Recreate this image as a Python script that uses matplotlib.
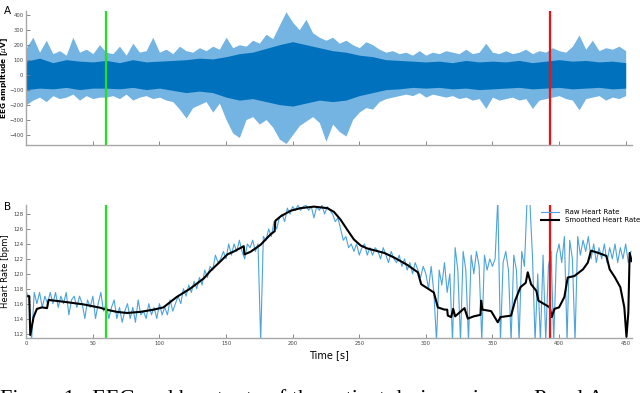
import numpy as np
import matplotlib
matplotlib.use("Agg")
import matplotlib.pyplot as plt

# EEG envelope (outer, every 5 s)
eeg_t = np.arange(0, 451, 5)
eeg_hi = [180, 250, 150, 230, 140, 160, 130, 250, 150, 170,
          140, 200, 150, 140, 190, 130, 210, 150, 160, 250,
          150, 170, 140, 190, 160, 150, 180, 160, 190, 170,
          250, 180, 200, 190, 230, 210, 270, 240, 330, 420,
          350, 300, 370, 280, 250, 230, 250, 210, 230, 200,
          180, 220, 200, 170, 150, 160, 140, 150, 130, 160,
          130, 150, 140, 160, 150, 140, 170, 140, 150, 210,
          150, 140, 160, 140, 150, 170, 140, 160, 150, 180,
          160, 150, 190, 265, 170, 230, 160, 180, 170, 190,
          160]
eeg_lo = [-200, -170, -150, -180, -140, -160, -150, -130, -170, -140,
          -160, -150, -150, -140, -160, -130, -170, -150, -140, -160,
          -150, -170, -180, -230, -290, -220, -200, -180, -250, -190,
          -300, -390, -420, -300, -280, -330, -300, -350, -430, -460,
          -400, -340, -310, -280, -320, -445, -330, -380, -410, -300,
          -250, -220, -230, -180, -160, -150, -140, -130, -140, -120,
          -150, -130, -140, -150, -140, -160, -150, -170, -160, -225,
          -150, -170, -160, -150, -170, -160, -225, -170, -160, -150,
          -140, -160, -170, -235, -160, -150, -140, -170, -150, -160,
          -140]

# dense core of the EEG trace (every 10 s)
core_t = np.arange(0, 451, 10)
core_hi = [90, 110, 80, 100, 90, 85,
           95, 80, 100, 85, 90, 95,
           100, 110, 105, 120, 140, 150,
           175, 200, 220, 200, 180, 160,
           150, 130, 120, 100, 95, 90,
           85, 90, 80, 95, 85, 90,
           85, 95, 80, 90, 100, 90,
           95, 85, 90, 80]
core_lo = [-100, -90, -95, -85, -100, -90,
           -90, -95, -85, -100, -90, -105,
           -120, -110, -120, -150, -170, -160,
           -180, -200, -210, -190, -170, -180,
           -170, -140, -120, -100, -95, -85,
           -90, -85, -95, -90, -100, -95,
           -90, -85, -95, -90, -85, -95,
           -90, -85, -95, -90]

# raw heart rate, one value every 2 s
hr_raw = [117.5, 117.0, 111.0, 117.5, 116.0, 117.5, 115.5, 117.0, 116.0, 117.5,
          116.0, 117.5, 115.5, 117.0, 116.0, 117.5, 114.5, 116.5, 117.0, 115.5,
          117.0, 116.0, 114.0, 116.5, 115.5, 117.0, 114.0, 116.0, 117.5, 115.0,
          116.0, 114.0, 115.5, 116.5, 114.0, 115.5, 113.5, 115.0, 116.0, 114.0,
          115.5, 113.5, 116.5, 114.5, 115.0, 114.0, 116.0, 114.5, 115.5, 114.0,
          116.0, 114.5, 115.5, 114.5, 116.5, 115.0, 116.0, 117.0, 116.0, 118.0,
          117.0, 118.5, 117.5, 119.0, 118.0, 119.5, 118.5, 120.5, 119.5, 121.0,
          120.5, 122.5, 121.5, 122.0, 123.0, 122.0, 124.0, 122.5, 124.0, 123.0,
          124.5, 123.0, 122.0, 124.0, 123.5, 124.5, 123.0, 124.0, 111.0, 125.0,
          124.5, 126.0, 125.0, 127.0, 126.0, 127.5, 128.0, 127.0, 128.8, 128.0,
          129.0, 128.5, 129.2, 128.5, 129.0, 129.2, 128.5, 129.0, 127.5, 129.0,
          128.5, 129.2, 128.0, 129.0, 128.5, 128.0, 127.0, 127.5, 126.0, 124.5,
          125.0, 123.5, 124.0, 123.0, 124.0, 122.5, 123.5, 124.0, 122.5, 123.5,
          122.5, 123.5, 123.0, 122.0, 123.5, 122.5, 121.5, 123.0, 122.0, 121.5,
          122.5, 121.0, 122.0, 120.5, 121.5, 120.0, 121.5, 120.5, 119.5, 121.0,
          120.0, 118.0, 121.0, 117.5, 111.0, 120.5, 118.5, 121.5, 117.5, 120.0,
          111.0, 123.5, 120.5, 111.0, 123.0, 120.5, 111.0, 122.5, 120.0, 123.0,
          121.0, 111.0, 122.5, 120.5, 122.0, 121.0, 122.0, 130.0, 111.0, 121.5,
          123.0, 120.5, 111.0, 122.5, 120.5, 111.0, 123.0, 121.0, 130.0, 130.0,
          122.5, 111.0, 120.0, 111.0, 122.5, 111.0, 121.0, 123.0, 111.0, 122.5,
          124.0, 121.5, 125.0, 111.0, 124.5, 122.0, 111.0, 125.0, 122.5, 124.5,
          123.0, 125.0, 122.0, 124.0, 121.5, 123.5, 122.0, 124.0, 121.5, 123.5,
          122.0, 124.0, 121.5, 123.5, 122.0, 124.0, 121.5, 123.0]
t_raw = np.arange(0, 455, 2)[:len(hr_raw)]

# smoothed heart rate
t_smooth = [0, 2.3, 3.0, 5.5, 8, 11.8, 15.6, 16.8, 30.5, 43, 55.6, 60, 68, 75.7,
            85.7, 95.7, 103, 113, 123, 133.4, 138.3, 146, 151, 156, 163.3, 163.8,
            168.4, 176, 183.5, 186.5, 187, 191, 198.5, 206, 216, 226, 231, 236,
            241, 246, 251, 256, 268.7, 276, 286, 294, 296.5, 306, 309, 314, 316,
            316.5, 319, 320.5, 322, 329, 331.5, 336, 341, 341.5, 342.5, 349, 354,
            356, 364, 367, 371, 375, 376.5, 379, 383, 384.5, 390.7, 393, 394.5,
            396.5, 400, 404, 406.5, 411.5, 418, 421.6, 424, 429.5, 435.5, 438,
            442, 446, 449, 450.6, 452, 453, 454.5]
hr_smooth = [117.0, 117.0, 111.8, 114.2, 115.3, 115.5, 115.4, 116.5, 116.2, 115.9,
             115.45, 115.2, 114.9, 114.75, 114.9, 115.2, 115.5, 116.9, 118.0, 119.4,
             120.4, 121.7, 122.6, 123.0, 123.7, 122.6, 122.95, 123.9, 125.3, 125.7,
             127.1, 127.7, 128.45, 128.8, 129.0, 128.8, 128.3, 127.25, 125.9, 124.6,
             123.8, 123.4, 122.8, 122.2, 121.2, 120.2, 118.6, 117.5, 115.5, 115.2,
             115.2, 114.4, 114.2, 115.3, 114.3, 115.4, 114.0, 114.3, 114.5, 116.4,
             115.2, 115.0, 113.5, 114.2, 114.4, 116.4, 118.2, 118.8, 120.2, 118.6,
             117.7, 116.4, 115.75, 115.5, 114.2, 115.3, 115.5, 116.9, 119.5, 119.7,
             120.6, 121.5, 123.1, 122.8, 122.4, 120.6, 119.5, 118.2, 115.5, 111.55,
             114.8, 122.8, 121.7]

onset_t = 60
offset_t = 393

spine_col = "#a8a8a8"
tick_col = "#444444"

fig = plt.figure(figsize=(6.4, 3.93), dpi=100)
axA = fig.add_axes([0.041, 0.631, 0.947, 0.341])
axB = fig.add_axes([0.041, 0.140, 0.947, 0.338])

# panel A
axA.fill_between(eeg_t, eeg_lo, eeg_hi, color="#74b4e2", lw=0)
axA.fill_between(core_t, core_lo, core_hi, color="#0072BD", lw=0)
axA.axvline(onset_t, color="#22e022", lw=1.6)
axA.axvline(offset_t, color="#f01010", lw=1.6)
axA.set_xlim(0, 455)
axA.set_ylim(-470, 425)
axA.set_yticks(range(-400, 401, 100))
axA.set_xticks(range(0, 451, 50))
axA.set_xticklabels([])
axA.set_ylabel("EEG amplitude [$\\mu$V]", fontsize=5.3, fontweight="bold")
axA.yaxis.set_label_coords(-0.0265, 0.5)

# panel B
axB.plot(t_raw, hr_raw, color="#4da3dc", lw=0.8, label="Raw Heart Rate")
axB.plot(t_smooth, hr_smooth, color="black", lw=1.5, label="Smoothed Heart Rate")
axB.axvline(onset_t, color="#22e022", lw=1.6)
axB.axvline(offset_t, color="#f01010", lw=1.6)
axB.set_xlim(0, 455)
axB.set_ylim(111.4, 129.2)
axB.set_yticks(range(112, 129, 2))
axB.set_xticks(range(0, 451, 50))
axB.set_ylabel("Heart Rate [bpm]", fontsize=6)
axB.yaxis.set_label_coords(-0.026, 0.5)
axB.set_xlabel("Time [s]", fontsize=7, labelpad=3)
axB.legend(loc="upper right", bbox_to_anchor=(1.02, 1.0), fontsize=5,
           frameon=False, handlelength=2.6, borderaxespad=0.2, labelspacing=0.3)

for ax in (axA, axB):
    for s in ("top", "right"):
        ax.spines[s].set_visible(False)
    for s in ("left", "bottom"):
        ax.spines[s].set_color(spine_col)
        ax.spines[s].set_linewidth(1.0)
    ax.tick_params(direction="in", length=3, width=0.6, color="#777777",
                   labelsize=3.8, labelcolor=tick_col, pad=2)

fig.text(0.006, 0.985, "A", fontsize=7.5, va="top")
fig.text(0.006, 0.487, "B", fontsize=7.5, va="top")

# caption cut by the bottom edge, as in the source
fig.text(0.0, -0.028, "Figure 1:  EEG and heart rate of the patient during seizure.  Panel A",
         fontsize=16, family="Liberation Serif", va="baseline")

fig.savefig("out.png", dpi=100)
